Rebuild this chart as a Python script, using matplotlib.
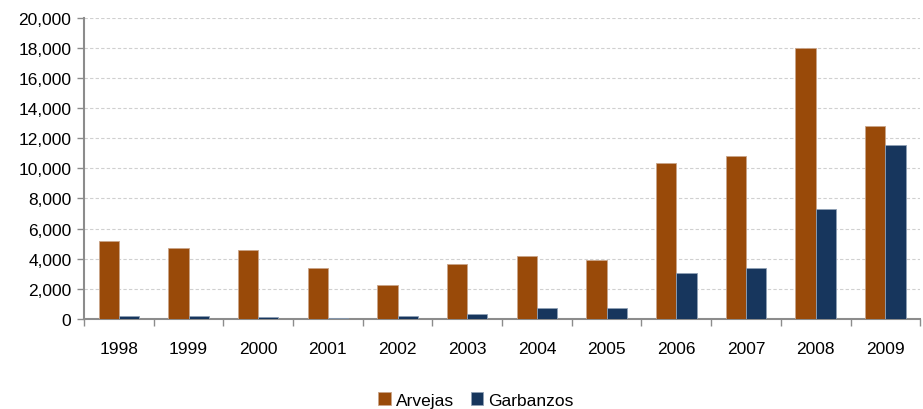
import matplotlib
matplotlib.use("Agg")
import matplotlib.pyplot as plt
import numpy as np
from matplotlib.ticker import FuncFormatter, FixedLocator

plt.rcParams['font.family'] = ['Liberation Sans', 'DejaVu Sans']

years = ["1998", "1999", "2000", "2001", "2002", "2003", "2004", "2005", "2006", "2007", "2008", "2009"]
arvejas = [5200, 4700, 4600, 3400, 2250, 3650, 4200, 3900, 10350, 10800, 18000, 12800]
garbanzos = [200, 200, 100, 80, 200, 300, 700, 700, 3050, 3350, 7300, 11550]

fig = plt.figure(figsize=(9.23, 4.10), dpi=100)
ax = fig.add_axes([0.091, 0.22, 0.906, 0.734])

x = np.arange(len(years))
w = 0.29
ax.bar(x - w/2, arvejas, w, color='#994a09', edgecolor='#c9a58a', linewidth=0.6, label='Arvejas', zorder=3)
ax.bar(x + w/2, garbanzos, w, color='#17365d', edgecolor='#8fa0b5', linewidth=0.6, label='Garbanzos', zorder=3)

ax.set_xlim(-0.5, len(years) - 0.5)
ax.set_ylim(0, 20000)
ax.set_yticks(np.arange(0, 20001, 2000))
ax.yaxis.set_major_formatter(FuncFormatter(lambda v, p: f"{int(v):,}"))
ax.set_xticks(x)
ax.set_xticklabels(years)
ax.xaxis.set_minor_locator(FixedLocator(np.arange(-0.5, len(years), 1.0)))
ax.tick_params(axis='x', which='major', length=0, pad=16, labelsize=12.5)
ax.tick_params(axis='x', which='minor', length=5, color='#8c8c8c', width=1)
ax.tick_params(axis='y', length=5, color='#8c8c8c', width=1, labelsize=12.5, pad=4)

ax.grid(axis='y', linestyle=(0, (3, 2)), color='#d0d0d0', linewidth=0.8, zorder=0)
for s in ['top', 'right']:
    ax.spines[s].set_visible(False)
for s in ['left', 'bottom']:
    ax.spines[s].set_color('#8c8c8c')
    ax.spines[s].set_linewidth(1.5)

ax.legend(loc='center', bbox_to_anchor=(0.469, -0.27), ncol=2, frameon=False,
          fontsize=12.5, handlelength=0.7, handleheight=0.7, handletextpad=0.3, columnspacing=1.0,
          borderpad=0)

fig.savefig("out.png", dpi=100)
